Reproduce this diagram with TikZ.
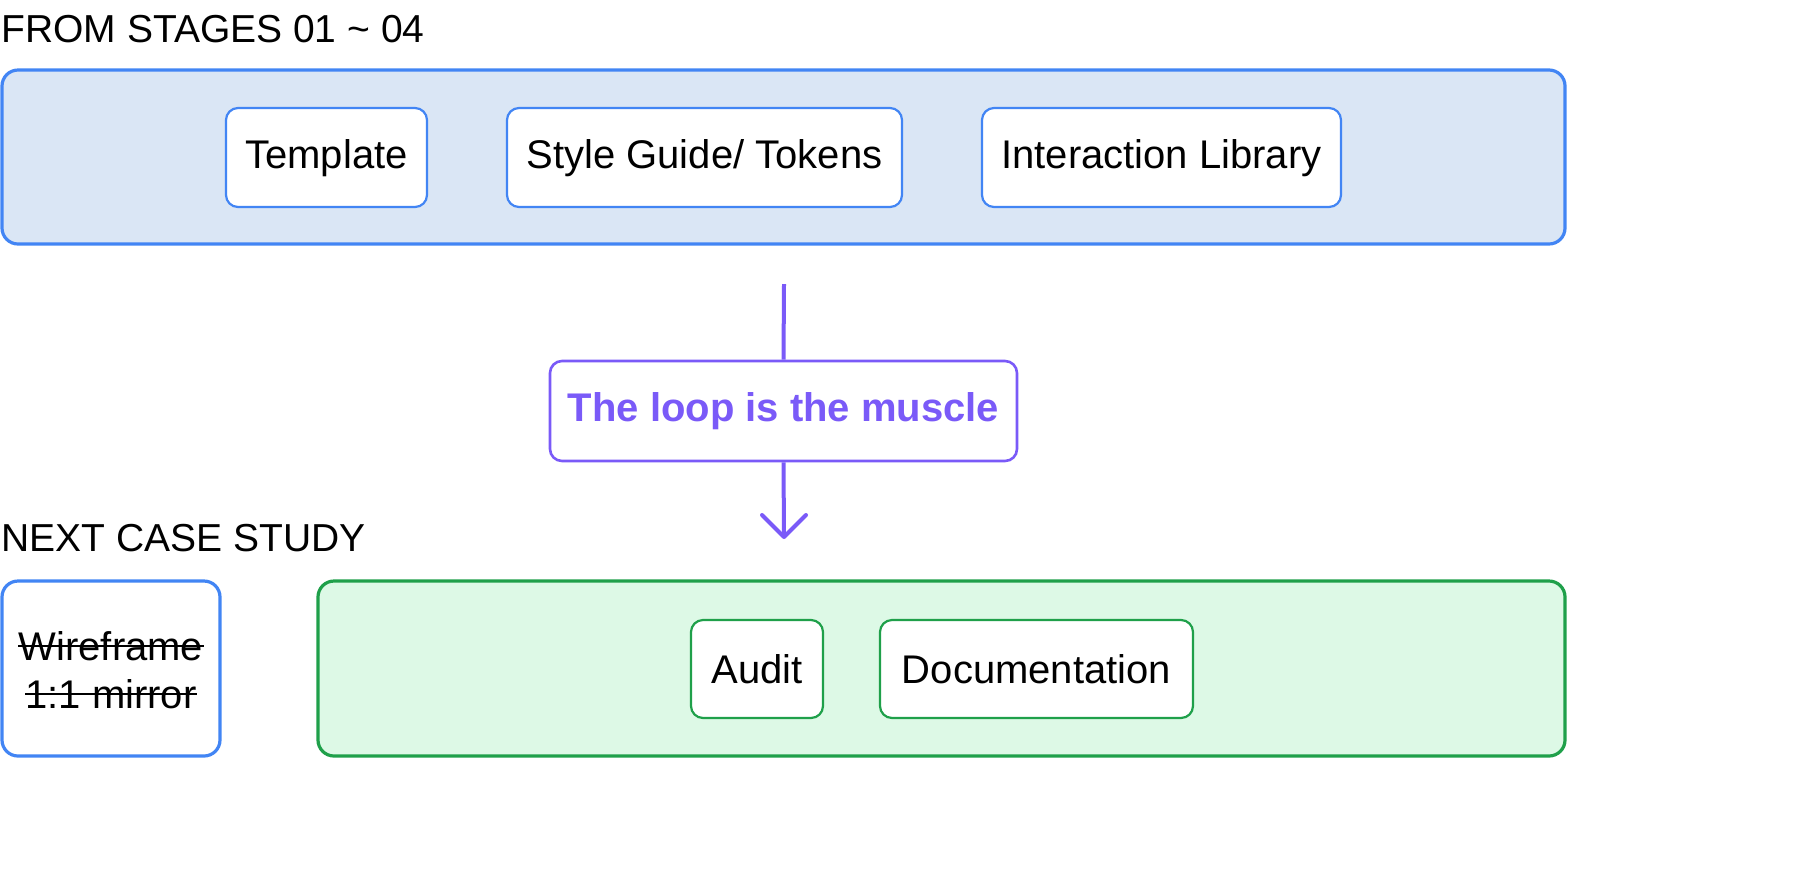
\documentclass[tikz,border=0pt]{standalone}
\usepackage{fontspec}
\setmainfont{Liberation Sans}
\definecolor{bblue}{HTML}{4285F4}
\definecolor{bfill}{HTML}{DAE6F5}
\definecolor{gline}{HTML}{1FA04A}
\definecolor{gfill}{HTML}{DDF9E6}
\definecolor{purp}{HTML}{7A5AF8}
\begin{document}
\begin{tikzpicture}[x=0.5pt,y=-0.5pt,
  big/.style={draw, rounded corners=8pt, line width=1.6pt},
  item/.style={draw=bblue, fill=white, rounded corners=6pt, line width=1.1pt},
  lbl/.style={font=\fontsize{20}{24}\selectfont, text=black},
  head/.style={font=\fontsize{19.5}{23}\selectfont, anchor=base west, inner sep=0pt}]
\useasboundingbox (0,0) rectangle (1808,875);
\node[head] (h1) at (1,42) {FROM STAGES 01 \char`~\ 04};
\draw[big, draw=bblue, fill=bfill] (2,70) rectangle (1565,244);
\draw[item] (226,108) rectangle (427,207); \node[lbl] (t1) at (326.5,158) {Template};
\draw[item] (507,108) rectangle (902,207); \node[lbl] (t2) at (704.5,158) {Style Guide/ Tokens};
\draw[item] (982,108) rectangle (1341,207); \node[lbl] (t3) at (1161.5,158) {Interaction Library};
\coordinate (top) at (784,284);
\coordinate (bot) at (784,537);
\node[draw=purp, line width=1.3pt, rounded corners=6pt, fill=white, minimum width=233.5pt, minimum height=50pt, text=purp, font=\bfseries\fontsize{20}{24}\selectfont] (loop) at (783.5,411) {The loop is the muscle};
\draw[purp, line width=2pt] (top) -- (loop.north);
\draw[purp, line width=2pt] (loop.south) -- (bot);
\draw[purp, line width=2pt, line cap=round, line join=round] (762,515) -- (bot) -- (806,515);
\node[head] (h2) at (1,551) {NEXT CASE STUDY};
\draw[big, draw=bblue, fill=white] (2,581) rectangle (220,756);
\node[lbl, inner sep=0pt] (w1) at (111,646) {Wireframe};
\node[lbl, inner sep=0pt] (w2) at (111,694) {1:1 mirror};
\draw[line width=1pt] (w1.west) -- (w1.east);
\draw[line width=1pt] (w2.west) -- (w2.east);
\draw[big, draw=gline, fill=gfill] (318,581) rectangle (1565,756);
\draw[item, draw=gline] (691,620) rectangle (823,718); \node[lbl] (a) at (757,669) {Audit};
\draw[item, draw=gline] (880,620) rectangle (1193,718); \node[lbl] (d) at (1036.5,669) {Documentation};
\end{tikzpicture}
\end{document}
